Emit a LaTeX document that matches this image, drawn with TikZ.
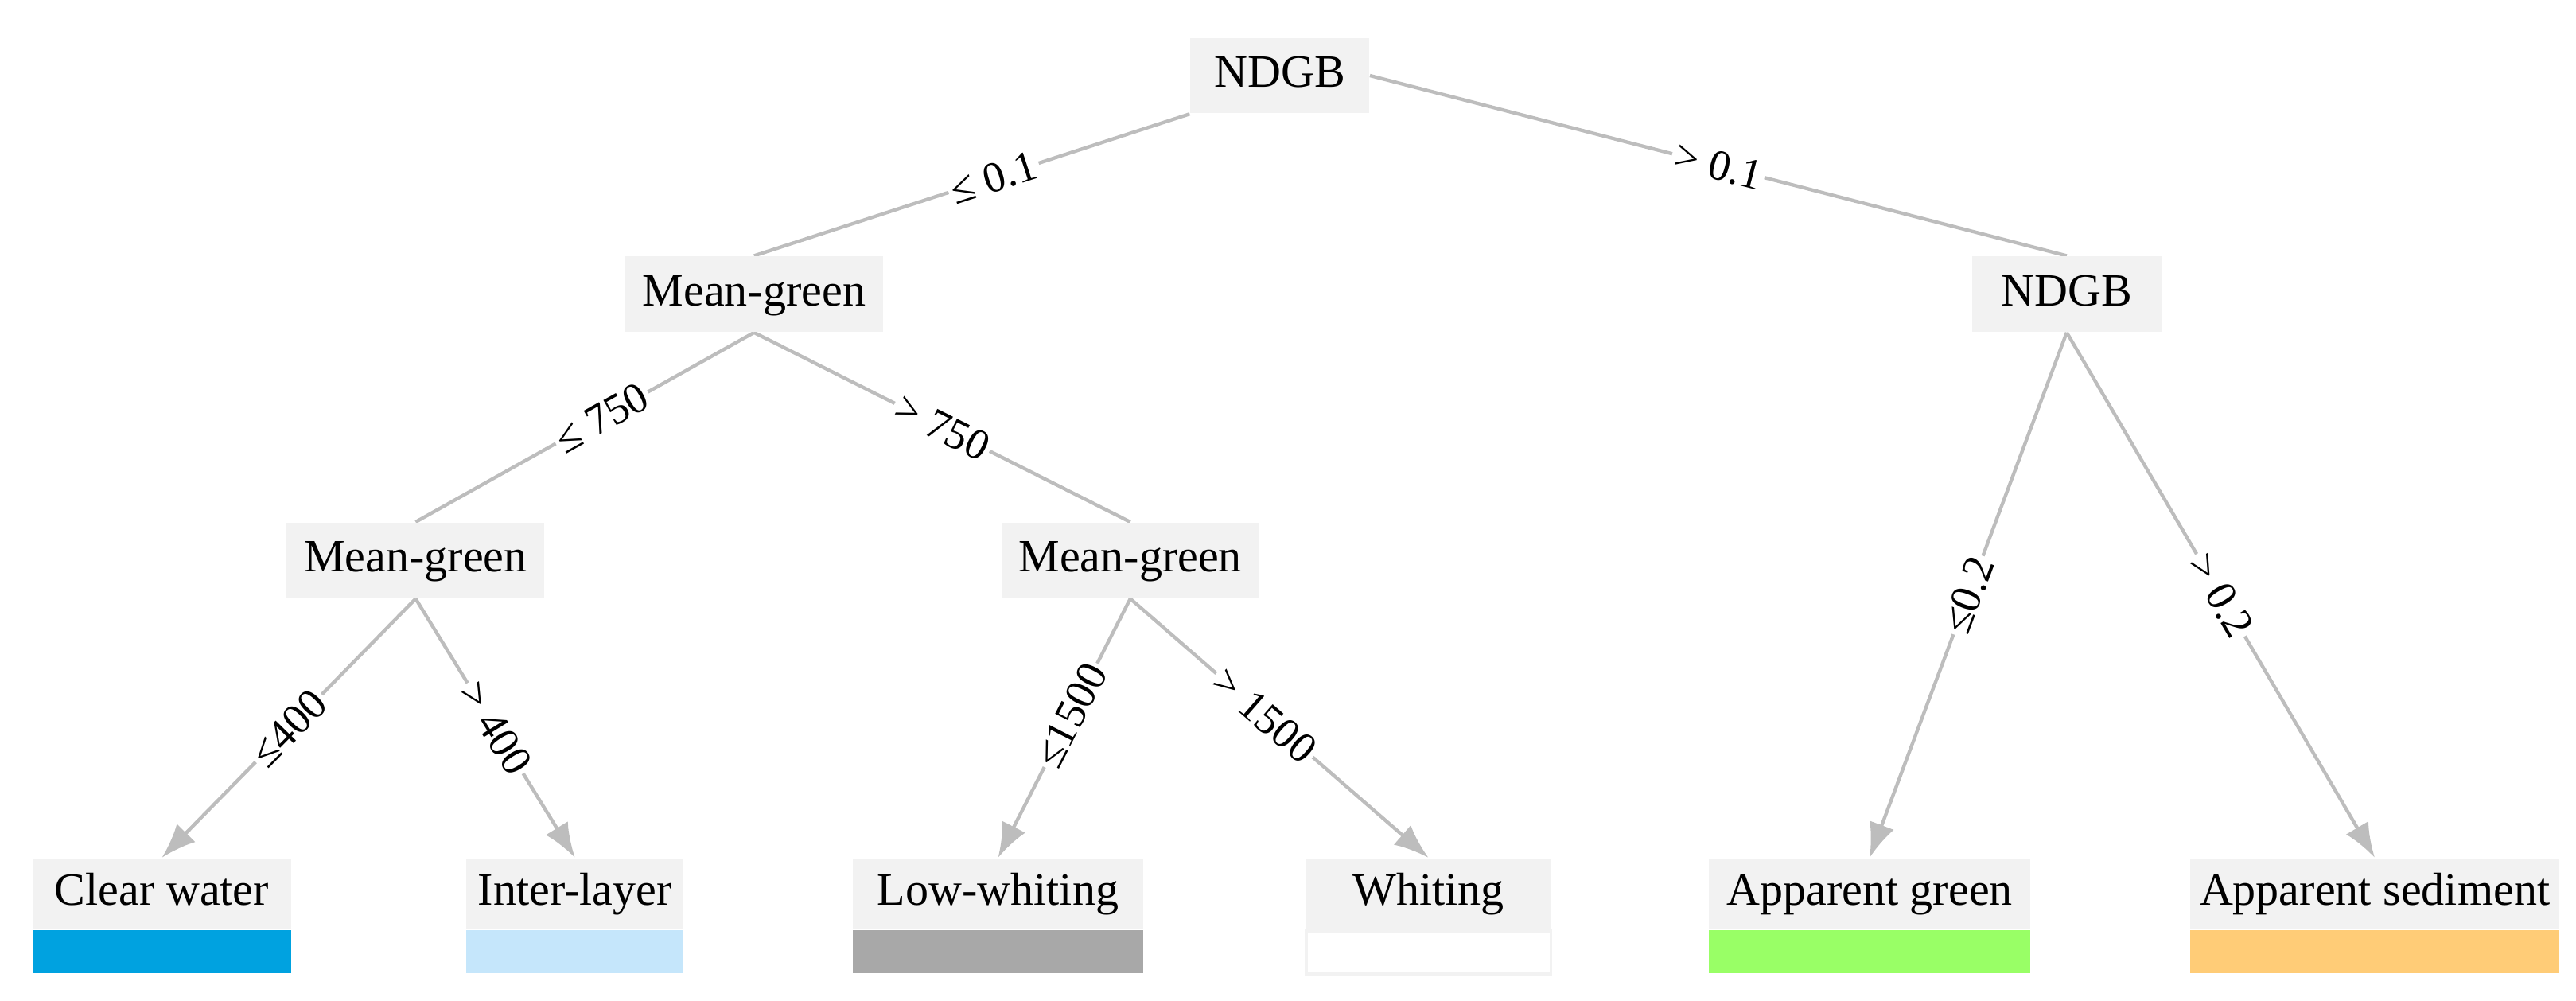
\documentclass[tikz,border=0pt]{standalone}
\usepackage{fontspec}
\setmainfont{Liberation Serif}
\usetikzlibrary{backgrounds,arrows.meta}
\definecolor{nodefill}{HTML}{F2F2F2}
\definecolor{edgecol}{HTML}{BDBDBD}
\begin{document}
\begin{tikzpicture}[x=0.02cm,y=-0.02cm,
  inner/.style={fill=nodefill,font=\fontsize{16}{18}\selectfont,minimum height=0.92cm,inner xsep=6pt,text height=11pt,text depth=3pt},
  leaf/.style={fill=nodefill,font=\fontsize{16}{18}\selectfont,minimum height=0.86cm,anchor=north,text height=11pt,text depth=3pt},
  bar/.style={minimum height=0.52cm,anchor=north,inner sep=0pt},
  edge/.style={draw=edgecol,line width=1.2pt},
  arr/.style={edge,-{Latex[length=12pt,width=9pt]}},
  lab/.style={sloped,fill=white,inner sep=1pt,font=\fontsize{15}{17}\selectfont}]
\useasboundingbox (0,0) rectangle (1568,609);
\node[inner,minimum width=109*0.02cm] (root) at (779,46) {NDGB};
\node[inner,minimum width=147*0.02cm] (mg1) at (459,179) {Mean-green};
\node[inner,minimum width=115*0.02cm] (nd1) at (1258,179) {NDGB};
\node[inner,minimum width=153*0.02cm] (mg2) at (253,341) {Mean-green};
\node[inner,minimum width=152*0.02cm] (mg3) at (688,341) {Mean-green};
\node[leaf,minimum width=157*0.02cm] (cw) at (98.5,522) {Clear water};
\node[bar,minimum width=157*0.02cm,fill={rgb,255:red,0;green,162;blue,224}] (cwb) at (cw.south) {};
\node[leaf,minimum width=132*0.02cm] (il) at (350,522) {Inter-layer};
\node[bar,minimum width=132*0.02cm,fill={rgb,255:red,197;green,230;blue,251}] (ilb) at (il.south) {};
\node[leaf,minimum width=177*0.02cm] (lw) at (607.5,522) {Low-whiting};
\node[bar,minimum width=177*0.02cm,fill={rgb,255:red,168;green,168;blue,168}] (lwb) at (lw.south) {};
\node[leaf,minimum width=149*0.02cm] (wh) at (869.5,522) {Whiting};
\node[bar,minimum width=149*0.02cm,fill=white,draw=nodefill,line width=1pt] (whb) at (wh.south) {};
\node[leaf,minimum width=196*0.02cm] (ag) at (1138,522) {Apparent green};
\node[bar,minimum width=196*0.02cm,fill={rgb,255:red,153;green,255;blue,102}] (agb) at (ag.south) {};
\node[leaf,minimum width=225*0.02cm] (as) at (1445.5,522) {Apparent sediment};
\node[bar,minimum width=225*0.02cm,fill={rgb,255:red,255;green,204;blue,119}] (asb) at (as.south) {};
\begin{scope}[on background layer]
\draw[edge] (root.south west) -- node[lab,pos=0.45] {≤ 0.1} (mg1.north);
\draw[edge] (root.east) -- node[lab,pos=0.5] {> 0.1} (nd1.north);
\draw[edge] (mg1.south) -- node[lab,pos=0.45] {≤ 750} (mg2.north);
\draw[edge] (mg1.south) -- node[lab,pos=0.5] {> 750} (mg3.north);
\draw[arr] (mg2.south) -- node[lab,pos=0.5] {≤400} (cw.north);
\draw[arr] (mg2.south) -- node[lab,pos=0.5] {> 400} (il.north);
\draw[arr] (mg3.south) -- node[lab,pos=0.45] {≤1500} (lw.north);
\draw[arr] (mg3.south) -- node[lab,pos=0.45] {> 1500} (wh.north);
\draw[arr] (nd1.south) -- node[lab,pos=0.5] {≤0.2} (ag.north);
\draw[arr] (nd1.south) -- node[lab,pos=0.5] {> 0.2} (as.north);
\end{scope}
\end{tikzpicture}
\end{document}
